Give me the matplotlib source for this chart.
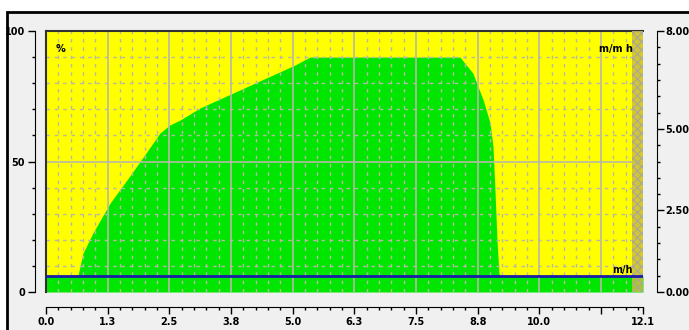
import matplotlib.pyplot as plt
import matplotlib.patches as mpatches
import numpy as np

# fill level curve (% over time)
curve_x = [0.65, 0.75, 0.95, 1.30, 1.64, 1.97, 2.31, 2.51, 2.72, 3.12, 5.05, 5.35,
           8.39, 8.65, 8.86, 9.00, 9.06, 9.10, 9.14, 9.18]
curve_y = [6.5, 14.9, 22.6, 34.1, 42.9, 51.7, 60.9, 64.0, 65.9, 70.5, 87.0, 90.0,
           90.0, 83.9, 73.6, 64.8, 55.6, 39.0, 20.0, 7.3]
band_pct = 6.1          # green band under the speed line
speed_mh = 0.5          # blue line, right axis
x_end = 12.1
hatch_start = 11.88

x_major = [0.0, 1.25, 2.5, 3.75, 5.0, 6.25, 7.5, 8.75, 10.0, 11.25, 12.1]
x_labels = ['0.0', '1.3', '2.5', '3.8', '5.0', '6.3', '7.5', '8.8', '10.0', '', '12.1']
y_major = [0, 50, 100]
y_labels = ['0', '50', '100']
r_major = [0.0, 2.5, 5.0, 8.0]
r_labels = ['0.00', '2.50', '5.00', '8.00']

W, H = 689, 330
fig = plt.figure(figsize=(W / 100, H / 100), dpi=100, facecolor='white')
# window frame, kept behind the axes
frame = mpatches.Rectangle((7 / W, -0.1), 1.2, 1.1 - 12 / H,
                           transform=fig.transFigure, facecolor='#f0f0f0',
                           edgecolor='black', lw=2, zorder=-10)
fig.patches.append(frame)

ax = fig.add_axes([46 / W, 1 - 292 / H, (643 - 46) / W, (292 - 31) / H])
ax.set_facecolor('#ffff00')
ax.set_xlim(0, x_end)
ax.set_ylim(0, 100)

# green area
fx = np.concatenate([[0.0], curve_x, [curve_x[-1] + 0.02, x_end]])
fy = np.maximum(np.concatenate([[0.0], curve_y, [0.0, 0.0]]), band_pct)
ax.fill_between(fx, 0, fy, color='#00e600', lw=0, zorder=1)

# grid: solid major, dashed minor
grid_c = '#b8b8a8'
for xv in np.arange(0.25, x_end, 0.25):
    if abs(xv / 1.25 - round(xv / 1.25)) < 1e-6:
        ax.axvline(xv, color=grid_c, lw=1.2, zorder=2)
    else:
        ax.axvline(xv, color=grid_c, lw=1.0, ls=(0, (2.5, 3.5)), zorder=2)
for yv in range(10, 100, 10):
    if yv == 50:
        ax.axhline(yv, color=grid_c, lw=1.2, zorder=2)
    else:
        ax.axhline(yv, color=grid_c, lw=1.0, ls=(0, (2.5, 3.5)), zorder=2)

# hatched strip at the end
ax.axvspan(hatch_start, x_end, facecolor='#cdbf3a', edgecolor='#a8a898', hatch='xxxx',
           lw=0, alpha=0.85, zorder=3)

for s in ['right', 'bottom']:
    ax.spines[s].set_visible(False)
for s in ['left', 'top']:
    ax.spines[s].set_color('#303030')
    ax.spines[s].set_linewidth(1.5)

tick_font = dict(fontsize=7, fontweight='bold', family='DejaVu Sans')

# right axis (speed)
ax2 = ax.twinx()
ax2.set_ylim(0, 8)
ax2.axhline(speed_mh, color='#1c1ca8', lw=2, zorder=5)
ax2.text(11.9, speed_mh + 0.02, 'm/h', fontsize=7, fontweight='bold', ha='right', va='bottom')
ax2.spines['right'].set_position(('outward', 10))
for s in ['left', 'top', 'bottom']:
    ax2.spines[s].set_visible(False)
ax2.spines['right'].set_color('black')
ax2.set_yticks(r_major)
ax2.set_yticklabels(r_labels, **tick_font)
ax2.set_yticks(np.arange(0, 8.01, 0.5), minor=True)
ax2.tick_params(axis='y', which='major', length=5, width=1, pad=1)
ax2.tick_params(axis='y', which='minor', length=2.5, width=1)

# left and bottom axes as offset spines on a transparent axes
axl = fig.add_axes(ax.get_position(), facecolor='none', sharex=ax, sharey=ax)
for s in ['right', 'top']:
    axl.spines[s].set_visible(False)
axl.spines['left'].set_position(('outward', 8))
axl.spines['bottom'].set_position(('outward', 11))
axl.set_xticks(x_major)
axl.set_xticklabels(x_labels, **tick_font)
axl.set_xticks(np.arange(0, x_end, 0.25), minor=True)
axl.set_yticks(y_major)
axl.set_yticklabels(y_labels, **tick_font)
axl.set_yticks(range(0, 101, 10), minor=True)
axl.tick_params(which='major', length=5, width=1, pad=2)
axl.tick_params(which='minor', length=2.5, width=1)
ax.tick_params(which='both', left=False, bottom=False, labelleft=False, labelbottom=False)

ax.text(0.2, 95, '%', fontsize=7, fontweight='bold', ha='left', va='top', zorder=6)
ax.text(11.9, 95, 'm/m h', fontsize=7, fontweight='bold', ha='right', va='top', zorder=6)

fig.savefig('out.png', dpi=100)
